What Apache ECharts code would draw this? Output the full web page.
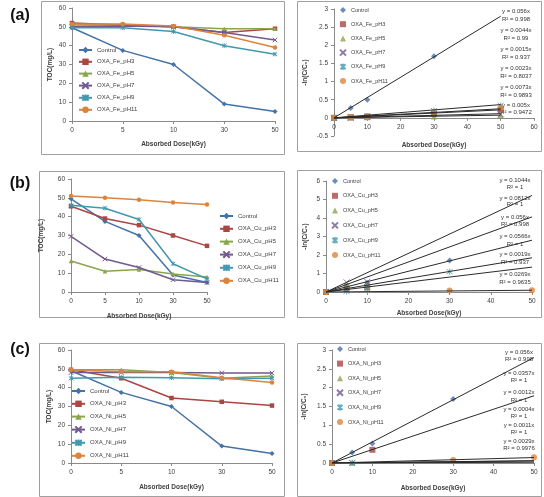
<!DOCTYPE html>
<html><head><meta charset="utf-8">
<script src="https://cdn.jsdelivr.net/npm/echarts@6/dist/echarts.min.js"></script>
<style>html,body{margin:0;padding:0;background:#fff}#c{width:544px;height:497px}</style>
</head><body><div id="c"></div><script>
// ---------------- DATA ----------------
const doseCategories = ['0', '5', '10', '30', '50'];

// (a) Fe
const feNames = ['Control', 'OXA_Fe_pH3', 'OXA_Fe_pH5', 'OXA_Fe_pH7', 'OXA_Fe_pH9', 'OXA_Fe_pH11'];
const feTocControl = [49.5, 37.5, 30, 9, 5];
const feTocPH3 = [52, 51, 50, 47, 49];
const feTocPH5 = [51, 51, 50, 49, 49];
const feTocPH7 = [50, 50.5, 50, 47, 43];
const feTocPH9 = [49.5, 49.5, 47.5, 40, 35.5];
const feTocPH11 = [51.5, 51.5, 50.5, 45.5, 39];
const feLnControl = [[0, 0], [5, 0.27], [10, 0.5], [30, 1.7]];
const feLnPH3 = [[0, 0], [5, 0.02], [10, 0.04], [30, 0.12], [50, 0.22]];
const feLnPH5 = [[0, 0], [5, 0.01], [10, 0.02], [30, 0.04], [50, 0.08]];
const feLnPH7 = [[0, 0], [5, 0.0], [10, 0.02], [30, 0.1], [50, 0.1]];
const feLnPH9 = [[0, 0], [5, 0.01], [10, 0.04], [30, 0.2], [50, 0.34]];
const feLnPH11 = [[0, 0], [5, 0.01], [10, 0.03], [30, 0.12], [50, 0.28]];
const feSlopes = [0.056, 0.0044, 0.0015, 0.0023, 0.0073, 0.005];
const feR2 = ['0.998', '0.99', '0.937', '0.8037', '0.9893', '0.9472'];

// (b) Cu
const cuNames = ['Control', 'OXA_Cu_pH3', 'OXA_Cu_pH5', 'OXA_Cu_pH7', 'OXA_Cu_pH9', 'OXA_Cu_pH11'];
const cuTocControl = [49.5, 37.5, 30, 9, 5];
const cuTocPH3 = [45.5, 39, 35.5, 30, 24.5];
const cuTocPH5 = [16.5, 11, 12, 9.5, 8];
const cuTocPH7 = [29.5, 17.5, 13, 6.5, 5];
const cuTocPH9 = [46, 44.5, 38.5, 15, 7];
const cuTocPH11 = [51, 50, 49, 47.5, 46.5];
const cuLnControl = [[0, 0], [5, 0.27], [10, 0.5], [30, 1.7]];
const cuLnPH3 = [[0, 0], [5, 0.15], [10, 0.25]];
const cuLnPH5 = [[0, 0], [5, 0.4], [10, 0.33]];
const cuLnPH7 = [[0, 0], [5, 0.52], [10, 0.55]];
const cuLnPH9 = [[0, 0], [5, 0.03], [10, 0.18], [30, 1.1]];
const cuLnPH11 = [[0, 0], [30, 0.08], [50, 0.09]];
const cuSlopes = [0.056, 0.0269, 0.0812, 0.1044, 0.0566, 0.0019];      // as printed
const cuTrendSlopes = [0.056, 0.0269, 0.0812, 0.1044, 0.037, 0.0019];  // as drawn in the picture
const cuR2 = ['0.998', '0.9635', '1', '1', '1', '0.937'];
const cuLabelOrder = [3, 2, 0, 4, 5, 1];

// (c) Ni
const niNames = ['Control', 'OXA_Ni_pH3', 'OXA_Ni_pH5', 'OXA_Ni_pH7', 'OXA_Ni_pH9', 'OXA_Ni_pH11'];
const niTocControl = [49, 37.5, 30, 9, 5];
const niTocPH3 = [49.5, 45, 34.5, 32.5, 30.5];
const niTocPH5 = [49.5, 49.5, 48, 45, 46.2];
const niTocPH7 = [48, 48, 48, 47.8, 47.8];
const niTocPH9 = [45, 45.5, 45.3, 44.8, 45];
const niTocPH11 = [49.5, 48.5, 48.5, 45.3, 42.7];
const niLnControl = [[0, 0], [5, 0.28], [10, 0.52], [30, 1.7]];
const niLnPH3 = [[0, 0], [10, 0.35]];
const niLnPH5 = [[0, 0], [5, 0.006]];
const niLnPH7 = [[0, 0], [5, 0.002]];
const niLnPH9 = [[0, 0], [5, 0.0055]];
const niLnPH11 = [[0, 0], [30, 0.08], [50, 0.15]];
const niSlopes = [0.056, 0.0357, 0.0012, 0.0004, 0.0011, 0.0029];
const niR2 = ['0.998', '1', '1', '1', '1', '0.9976'];

const xAxisTitle = 'Absorbed Dose(kGy)';
const tocTitle = 'TOC(mg/L)';
const lnTitle = '-ln(C/C\u2080)';
const panelLabels = ['(a)', '(b)', '(c)'];

// ---------------- STYLE ----------------
const colors = ['#4572A7', '#AA4643', '#89A54E', '#71588F', '#4198AF', '#DB843D'];
const X_PATH = 'path://M0,0L10,10M0,10L10,0';
const STAR_PATH = 'path://M0,0L10,10M0,10L10,0M5,-1L5,11';
const symbols = ['diamond', 'rect', 'triangle', X_PATH, STAR_PATH, 'circle'];
const FONT = '"Liberation Sans", Arial, sans-serif';
const AXC = '#8a8a8a', TXT = '#404040';

const grids = [
  {left: 72, top: 8, width: 203, height: 113},
  {left: 334, top: 9, width: 200, height: 127},
  {left: 71, top: 179, width: 136, height: 113},
  {left: 326, top: 181, width: 206, height: 111},
  {left: 71, top: 350, width: 201, height: 113},
  {left: 332, top: 350, width: 202, height: 113}
];

function axisCommon() {
  return {
    axisLine: {show: true, onZero: false, lineStyle: {color: AXC, width: 1}},
    axisTick: {show: true, length: 3, lineStyle: {color: AXC}},
    axisLabel: {fontSize: 6.5, color: TXT, fontFamily: FONT, margin: 6},
    splitLine: {show: false},
    nameTextStyle: {fontSize: 6.5, fontWeight: 'bold', color: TXT, fontFamily: FONT},
    nameLocation: 'middle'
  };
}
const xAxes = [], yAxes = [];
const xNameGaps = [20, 24, 21, 18, 21, 22];
const yNameGaps = [18, 25, 26, 17, 18, 24];
const rightX = [null, 60, null, 50, null, 50];
const rightY = [null, [-0.5, 3, 0.5], null, [0, 6, 1], null, [0, 3, 0.5]];
for (let g = 0; g < 6; g++) {
  const left = g % 2 === 0;
  const xa = Object.assign(axisCommon(), {gridIndex: g, name: xAxisTitle, nameGap: xNameGaps[g]});
  const ya = Object.assign(axisCommon(), {gridIndex: g, nameGap: yNameGaps[g], nameRotate: 90});
  if (left) {
    Object.assign(xa, {type: 'category', data: doseCategories, boundaryGap: false,
      axisTick: {show: true, length: 3, interval: 0, lineStyle: {color: AXC}}});
    Object.assign(ya, {type: 'value', min: 0, max: 60, interval: 10, name: tocTitle});
  } else {
    const r = rightY[g];
    Object.assign(xa, {type: 'value', min: 0, max: rightX[g], interval: 10});
    // x axis crosses the y axis at zero (Excel style)
    if (r[0] < 0) xa.offset = -grids[g].height * (-r[0]) / (r[1] - r[0]);
    Object.assign(ya, {type: 'value', min: r[0], max: r[1], interval: r[2], name: lnTitle});
  }
  xAxes.push(xa); yAxes.push(ya);
}

const series = [];
const legends = [];
function addToc(prefix, names, arrays, g, legendPos) {
  const legendData = [];
  arrays.forEach((arr, i) => {
    const nm = prefix + '|' + names[i];
    legendData.push(nm);
    const stroke = (i === 3 || i === 4);
    series.push({
      type: 'line', name: nm, xAxisIndex: g, yAxisIndex: g, data: arr,
      symbol: symbols[i], symbolSize: i === 0 ? 5 : 4.5, showSymbol: true,
      lineStyle: {color: colors[i], width: 1.5},
      itemStyle: {color: colors[i], borderColor: colors[i], borderWidth: stroke ? 1 : 0},
      animation: false, z: 2 + i
    });
  });
  legends.push(Object.assign({
    data: legendData, orient: 'vertical', itemWidth: 13, itemHeight: 8,
    textStyle: {fontSize: 6, color: TXT, fontFamily: FONT, lineHeight: 8},
    formatter: n => n.split('|')[1], selectedMode: false, padding: 0
  }, legendPos));
}
function addLn(prefix, names, arrays, slopes, xEnd, g, legendPos) {
  const legendData = [];
  arrays.forEach((arr, i) => {
    const nm = prefix + '|' + names[i];
    legendData.push(nm);
    const stroke = (i === 3 || i === 4);
    series.push({
      type: 'scatter', name: nm, xAxisIndex: g, yAxisIndex: g, data: arr,
      symbol: symbols[i], symbolSize: 6,
      itemStyle: {color: colors[i], borderColor: colors[i], borderWidth: stroke ? 1 : 0},
      animation: false, z: 2
    });
  });
  slopes.forEach((s) => {
    series.push({
      type: 'line', xAxisIndex: g, yAxisIndex: g, data: [[0, 0], [xEnd, s * xEnd]],
      symbol: 'none', silent: true, lineStyle: {color: '#2a2a2a', width: 1}, animation: false, z: 3
    });
  });
  legends.push(Object.assign({
    data: legendData, orient: 'vertical', itemWidth: 6, itemHeight: 6,
    textStyle: {fontSize: 5.5, color: TXT, fontFamily: FONT, lineHeight: 8},
    formatter: n => n.split('|')[1], selectedMode: false, padding: 0
  }, legendPos));
}

addToc('aL', feNames, [feTocControl, feTocPH3, feTocPH5, feTocPH7, feTocPH9, feTocPH11], 0, {left: 78, top: 46, itemGap: 3.8});
addLn('aR', feNames, [feLnControl, feLnPH3, feLnPH5, feLnPH7, feLnPH9, feLnPH11], feSlopes, 50, 1, {left: 339, top: 6, itemGap: 6.2});
addToc('bL', cuNames, [cuTocControl, cuTocPH3, cuTocPH5, cuTocPH7, cuTocPH9, cuTocPH11], 2, {left: 219, top: 212, itemGap: 4.8});
addLn('bR', cuNames, [cuLnControl, cuLnPH3, cuLnPH5, cuLnPH7, cuLnPH9, cuLnPH11], cuTrendSlopes, 50, 3, {left: 331, top: 177, itemGap: 6.8});
addToc('cL', niNames, [niTocControl, niTocPH3, niTocPH5, niTocPH7, niTocPH9, niTocPH11], 4, {left: 71, top: 387, itemGap: 4.8});
addLn('cR', niNames, [niLnControl, niLnPH3, niLnPH5, niLnPH7, niLnPH9, niLnPH11], niSlopes, 50, 5, {left: 336, top: 345, itemGap: 6.6});

// graphic: frames, panel labels, trendline equations
const graphic = [];
const frames = [[41, 1, 243, 153], [297, 1, 244, 150], [39, 171, 245, 146], [297, 170, 244, 147], [39, 343, 245, 153], [297, 343, 244, 153]];
frames.forEach(f => graphic.push({type: 'rect', shape: {x: f[0] + 0.5, y: f[1] + 0.5, width: f[2], height: f[3]},
  style: {fill: 'none', stroke: '#a0a0a0', lineWidth: 1}, silent: true}));
const labelY = [16, 184, 350];
panelLabels.forEach((t, i) => graphic.push({type: 'text', x: 20, y: labelY[i],
  style: {text: t, font: 'bold 16px ' + FONT, fill: '#111', textAlign: 'center', textVerticalAlign: 'middle'}}));

function eqTexts(slopes, r2, order, cx, ys) {
  order.forEach((idx, k) => {
    graphic.push({type: 'text', x: cx, y: ys[2 * k], style: {text: 'y = ' + slopes[idx] + 'x', font: '6px ' + FONT, fill: '#333', textAlign: 'center', textVerticalAlign: 'middle'}});
    graphic.push({type: 'text', x: cx, y: ys[2 * k + 1], style: {text: 'R\u00b2 = ' + r2[idx], font: '6px ' + FONT, fill: '#333', textAlign: 'center', textVerticalAlign: 'middle'}});
  });
}
eqTexts(feSlopes, feR2, [0, 1, 2, 3, 4, 5], 516, [11, 19, 30, 38, 49, 57, 68, 76, 87, 95, 105, 112]);
eqTexts(cuSlopes, cuR2, cuLabelOrder, 515, [180, 187, 198, 204, 217, 224, 236, 244, 254, 262, 274, 282]);
eqTexts(niSlopes, niR2, [0, 1, 2, 3, 4, 5], 519, [352, 359, 373, 380, 392, 400, 409, 416, 425, 432, 441, 448]);

const chart = echarts.init(document.getElementById('c'));
chart.setOption({
  animation: false,
  backgroundColor: '#fff',
  grid: grids,
  xAxis: xAxes,
  yAxis: yAxes,
  legend: legends,
  series: series,
  graphic: graphic
});
</script></body></html>
